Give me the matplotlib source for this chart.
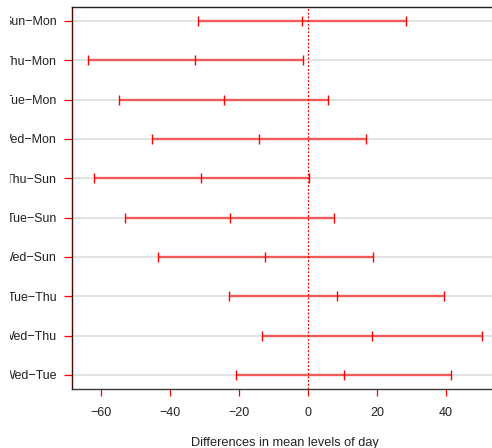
import matplotlib
matplotlib.use("Agg")
import matplotlib.pyplot as plt
from matplotlib.transforms import Bbox, TransformedBbox
import numpy as np

plt.rcParams['font.family'] = ['Liberation Sans', 'DejaVu Sans']

comparisons = ["Sun\u2212Mon", "Thu\u2212Mon", "Tue\u2212Mon", "Wed\u2212Mon", "Thu\u2212Sun",
               "Tue\u2212Sun", "Wed\u2212Sun", "Tue\u2212Thu", "Wed\u2212Thu", "Wed\u2212Tue"]
diff = [-1.7, -32.8, -24.5, -14.2, -31.0, -22.7, -12.5, 8.3, 18.6, 10.3]
lwr = [-31.9, -63.9, -54.8, -45.3, -62.1, -53.0, -43.6, -22.9, -13.4, -20.9]
upr = [28.5, -1.5, 5.7, 16.9, 0.2, 7.5, 18.8, 39.4, 50.5, 41.4]
xticks = [-60, -40, -20, 0, 20, 40]

W, H = 492, 448
fig = plt.figure(figsize=(W / 100, H / 100), dpi=100)
ax = fig.add_axes([72 / W, (H - 389) / H, (498 - 72) / W, (389 - 6.7) / H])

n = len(comparisons)
ypos = np.arange(n, 0, -1)

for y in ypos:
    ax.axhline(y, color='#e3e3e3', lw=1.4, zorder=1)

ax.axvline(0, color='red', lw=0.9, ls=(0, (1.5, 1.5)), zorder=2)

for y, d, lo, hi in zip(ypos, diff, lwr, upr):
    ax.plot([lo, hi], [y, y], color='red', alpha=0.6, lw=1.7, solid_capstyle='butt', zorder=3)
    ax.plot([lo, d, hi], [y, y, y], ls='none', marker='|', ms=6.5, mew=1.0, color='red', zorder=4)

xmin = min(lwr); xmax = max(upr); r = xmax - xmin
ax.set_xlim(xmin - 0.04 * r, xmax + 0.04 * r)
ax.set_ylim(1 - 0.04 * (n - 1), n + 0.04 * (n - 1))

ax.set_yticks(ypos)
ax.set_yticklabels(comparisons)
ax.set_xticks(xticks)
ax.set_xticklabels([("\u2212%d" % -v) if v < 0 else str(v) for v in xticks])

ax.tick_params(axis='both', colors='red', labelcolor='#222222', labelsize=9)
ax.tick_params(axis='y', length=5.8, width=0.9, pad=5)
ax.tick_params(axis='x', length=5.2, width=0.9, pad=8)

ax.spines['left'].set_color('#4a0808')
ax.spines['bottom'].set_color('#3a3a3a')
ax.spines['top'].set_color('#222222')
ax.spines['right'].set_color('#222222')
for s in ax.spines.values():
    s.set_linewidth(1.0)

ax.set_xlabel("Differences in mean levels of day", fontsize=9.2, color='#222222', labelpad=12.5)

# the reference is cropped a little on the left: clip the row labels there
clip = TransformedBbox(Bbox([[10 / W, 0], [1, 1]]), fig.transFigure)
for lab in ax.get_yticklabels():
    lab.set_clip_box(clip)
    lab.set_clip_on(True)

fig.savefig("out.png", dpi=100)
